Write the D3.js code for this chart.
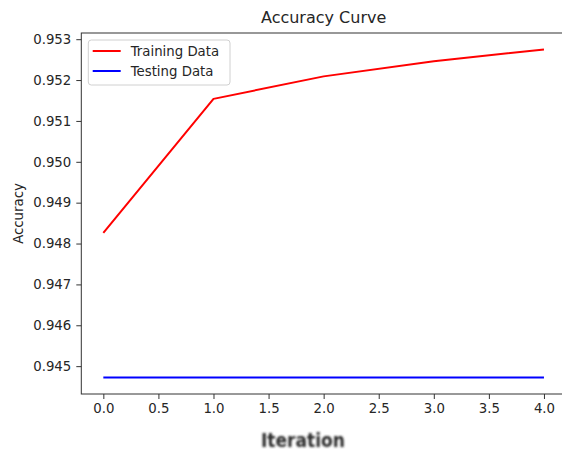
<!DOCTYPE html>
<html>
<head>
<meta charset="utf-8">
<script src="https://cdn.jsdelivr.net/npm/d3@7"></script>
<style>
  body { margin: 0; background: #fff; }
  svg { display: block; font-family: "DejaVu Sans", sans-serif; }
</style>
</head>
<body>
<svg id="chart" width="562" height="454"></svg>
<script>
// chart data
var iterations = [0, 1, 2, 3, 4];
var trainingAcc = [0.94826, 0.95154, 0.95209, 0.95246, 0.95275];
var testingAcc = [0.94472, 0.94472, 0.94472, 0.94472, 0.94472];
var xTicks = [0, 0.5, 1, 1.5, 2, 2.5, 3, 3.5, 4];
var yTicks = [0.945, 0.946, 0.947, 0.948, 0.949, 0.950, 0.951, 0.952, 0.953];
var seriesNames = ['Training Data', 'Testing Data'];
var seriesColors = ['#ff0000', '#0000ff'];

var svg = d3.select('#chart'),
  cs = {
    left: 81.3,
    right: 566,
    top: 33,
    bottom: 394,
    tick: 5,
    pad: 5,
    fontSize: 13.3
  };

// matplotlib style 5% margins
var pad = function (ext) {
  var m = (ext[1] - ext[0]) * 0.05;
  return [ext[0] - m, ext[1] + m];
};

var x = d3.scaleLinear()
  .domain(pad(d3.extent(iterations)))
  .range([cs.left, cs.right]);

var y = d3.scaleLinear()
  .domain(pad(d3.extent(trainingAcc.concat(testingAcc))))
  .range([cs.bottom, cs.top]);

var line = d3.line()
  .x(function (d, i) { return x(iterations[i]); })
  .y(function (d) { return y(d); });

// lines
[trainingAcc, testingAcc].forEach(function (s, i) {
  svg.append('path')
    .datum(s)
    .attr('fill', 'none')
    .attr('stroke', seriesColors[i])
    .attr('stroke-width', 2)
    .attr('stroke-linejoin', 'round')
    .attr('d', line);
});

// axes
var xAxis = svg.append('g')
  .attr('transform', 'translate(0,' + cs.bottom + ')')
  .call(d3.axisBottom(x)
    .tickValues(xTicks)
    .tickFormat(d3.format('.1f'))
    .tickSize(cs.tick)
    .tickPadding(cs.pad));

var yAxis = svg.append('g')
  .attr('transform', 'translate(' + cs.left + ',0)')
  .call(d3.axisLeft(y)
    .tickValues(yTicks)
    .tickFormat(d3.format('.3f'))
    .tickSize(cs.tick)
    .tickPadding(cs.pad));

[xAxis, yAxis].forEach(function (g) {
  g.select('.domain').remove();
  g.selectAll('.tick line').attr('stroke', '#333');
  g.selectAll('.tick text')
    .attr('fill', '#262626')
    .style('font-family', '"DejaVu Sans", sans-serif')
    .style('font-size', cs.fontSize + 'px');
});

// frame
svg.append('rect')
  .attr('x', cs.left)
  .attr('y', cs.top)
  .attr('width', cs.right - cs.left)
  .attr('height', cs.bottom - cs.top)
  .attr('fill', 'none')
  .attr('stroke', '#333')
  .attr('stroke-width', 1);

// title
svg.append('text')
  .attr('x', (cs.left + cs.right) / 2)
  .attr('y', 23)
  .attr('text-anchor', 'middle')
  .attr('fill', '#262626')
  .style('font-size', '16px')
  .text('Accuracy Curve');

// y label
svg.append('text')
  .attr('transform', 'translate(23,' + (cs.top + cs.bottom) / 2 + ') rotate(-90)')
  .attr('text-anchor', 'middle')
  .attr('fill', '#262626')
  .style('font-size', cs.fontSize + 'px')
  .text('Accuracy');

// x label is blurry in the original
var defs = svg.append('defs');
defs.append('filter')
  .attr('id', 'blur')
  .attr('x', '-10%')
  .attr('y', '-30%')
  .attr('width', '120%')
  .attr('height', '160%')
  .append('feGaussianBlur')
  .attr('stdDeviation', 1.1);

svg.append('text')
  .attr('x', 303)
  .attr('y', 447)
  .attr('text-anchor', 'middle')
  .attr('fill', '#2a2a2a')
  .attr('filter', 'url(#blur)')
  .style('font-size', '19px')
  .style('font-weight', 'bold')
  .style('font-family', '"Liberation Sans Narrow", "DejaVu Sans Condensed", sans-serif')
  .text('Iteration');

// legend
var legend = svg.append('g');
legend.append('rect')
  .attr('x', 88.3)
  .attr('y', 40)
  .attr('width', 141.7)
  .attr('height', 45)
  .attr('rx', 3)
  .attr('fill', 'rgba(255,255,255,0.8)')
  .attr('stroke', '#d0d0d0');

var item = legend.selectAll('.item')
  .data(seriesNames)
  .enter()
  .append('g')
  .attr('class', 'item')
  .attr('transform', function (d, i) { return 'translate(0,' + (51 + i * 20) + ')'; });

item.append('line')
  .attr('x1', 92.7)
  .attr('x2', 120.7)
  .attr('stroke', function (d, i) { return seriesColors[i]; })
  .attr('stroke-width', 2);

item.append('text')
  .attr('x', 130.7)
  .attr('dy', '0.35em')
  .attr('fill', '#262626')
  .style('font-size', cs.fontSize + 'px')
  .text(function (d) { return d; });
</script>
</body>
</html>
